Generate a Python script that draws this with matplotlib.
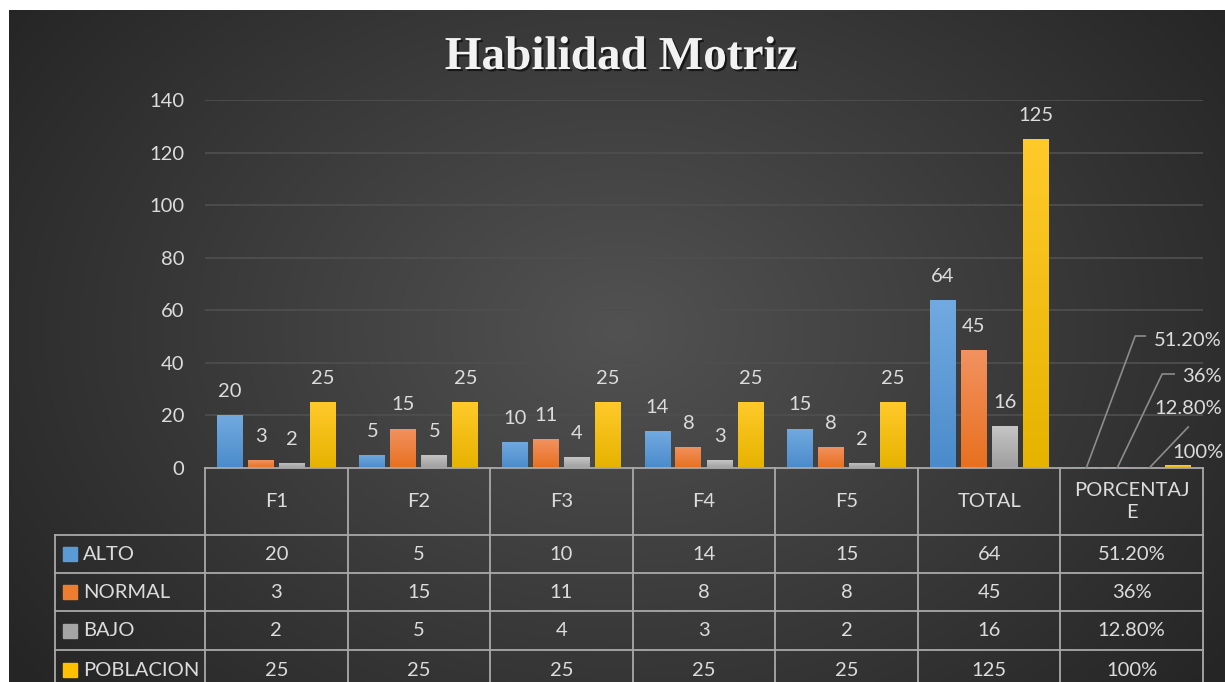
import numpy as np
import matplotlib
matplotlib.use("Agg")
import matplotlib.pyplot as plt
import matplotlib.patheffects as pe
from matplotlib.colors import LinearSegmentedColormap
from matplotlib.lines import Line2D
from matplotlib.transforms import IdentityTransform

plt.rcParams['font.family'] = ['Lato', 'DejaVu Sans']

# data
categories = ["F1", "F2", "F3", "F4", "F5", "TOTAL", "PORCENTAJ\nE"]
series = ["ALTO", "NORMAL", "BAJO", "POBLACION"]
alto = [20, 5, 10, 14, 15, 64, 0.512]
normal = [3, 15, 11, 8, 8, 45, 0.36]
bajo = [2, 5, 4, 3, 2, 16, 0.128]
poblacion = [25, 25, 25, 25, 25, 125, 1.0]
pct_labels = ["51.20%", "36%", "12.80%", "100%"]
values = [alto, normal, bajo, poblacion]

colors_top = ['#72aae0', '#f29260', '#c6c6c6', '#ffca2a']
colors_bot = ['#4b8bcb', '#e8701f', '#9e9e9e', '#e6b300']
key_colors = ['#5b9bd5', '#ed7d31', '#a5a5a5', '#ffc000']
txt = '#dcdcdc'
fs = 14.5

W, H = 1225, 682
fig = plt.figure(figsize=(W / 100, H / 100), dpi=100, facecolor='white')

# background gradient
bg = fig.add_axes([9 / W, 0, 1 - 9 / W, 672 / H])
bg.set_axis_off()
yy, xx = np.mgrid[0:672, 0:1216]
r = np.sqrt(((xx - 610) / 760.0) ** 2 + ((yy - 320) / 560.0) ** 2)
r = np.clip(r, 0, 1)
g = (0x52 + (0x25 - 0x52) * r) / 255.0
bg.imshow(np.dstack([g, g, g]), aspect='auto', interpolation='bilinear')

# main axes
ax = fig.add_axes([205 / W, (H - 468) / H, 998 / W, 368 / H])
ax.set_facecolor('none')
for s in ax.spines.values():
    s.set_visible(False)

n = len(categories)
x = np.arange(n)
offsets = [-0.326, -0.109, 0.109, 0.326]
bw = 0.182
grad = np.linspace(0, 1, 100).reshape(-1, 1)
for i in range(4):
    bars = ax.bar(x + offsets[i], values[i], bw, color=key_colors[i], zorder=3)
    cmap = LinearSegmentedColormap.from_list('c%d' % i, [colors_top[i], colors_bot[i]])
    for b in bars:
        x0, w, h = b.get_x(), b.get_width(), b.get_height()
        im = ax.imshow(grad, cmap=cmap, extent=[x0, x0 + w, 0, h], aspect='auto', zorder=4)
        im.set_clip_path(b)
    for j in range(n - 1):
        ax.annotate(str(values[i][j]), (x[j] + offsets[i], values[i][j]), xytext=(0, 17),
                    textcoords='offset points', ha='center', va='center', color=txt,
                    fontsize=fs, zorder=5)

ax.set_xlim(-0.5, n - 0.5)
ax.set_ylim(0, 140)
ax.set_yticks(range(0, 141, 20))
ax.set_xticks([])
ax.tick_params(axis='y', length=0, pad=15, labelsize=fs, labelcolor=txt)
ax.yaxis.grid(True, color='#4e4e4e', lw=1.3, zorder=0)
ax.set_axisbelow(True)

# percentage labels with leader lines (pixel offsets from bar top)
fig.canvas.draw()
lab_off = [(69, 128), (66, 91), (7, 59), (-6, 16)]
leaders = [[(1, 0), (50, 132), (60, 132)],
           [(1, 0), (46, 94), (58, 94)],
           [(2, 0), (41, 41)],
           None]
for i in range(4):
    ax_pt = ax.transData.transform((x[-1] + offsets[i], 0))
    fig.text(ax_pt[0] + lab_off[i][0], ax_pt[1] + lab_off[i][1], pct_labels[i],
             transform=IdentityTransform(), ha='left', va='center', color=txt, fontsize=fs)
    if leaders[i]:
        xs = [ax_pt[0] + p[0] for p in leaders[i]]
        ys = [ax_pt[1] + p[1] for p in leaders[i]]
        fig.add_artist(Line2D(xs, ys, transform=IdentityTransform(), color='#8c8c8c', lw=1.2))

# data table below the axis
cw = 998 / n  # px per category


def fx(px):
    return (px - 205) / cw - 0.5


def fy(py):
    return (468 - py) / 368.0


trans = ax.get_xaxis_transform()
lc = '#a9a9a9'
rows_y = [468, 535, 573, 611, 650, 690]
ax.plot([-0.5, n - 0.5], [fy(468)] * 2, transform=trans, color=lc, lw=1.3, clip_on=False, zorder=6)
for py in rows_y[1:]:
    ax.plot([fx(55), n - 0.5], [fy(py)] * 2, transform=trans, color=lc, lw=1.3, clip_on=False)
for k in range(n + 1):
    ax.plot([k - 0.5] * 2, [fy(468), fy(690)], transform=trans, color=lc, lw=1.3, clip_on=False)
ax.plot([fx(55)] * 2, [fy(535), fy(690)], transform=trans, color=lc, lw=1.3, clip_on=False)

for j, c in enumerate(categories):
    ax.text(x[j], fy(501.5), c, transform=trans, ha='center', va='center', color=txt,
            fontsize=fs, linespacing=1.35)

for i in range(4):
    yc = fy((rows_y[i + 1] + rows_y[i + 2]) / 2)
    ax.plot([fx(70)], [yc], marker='s', ms=10, color=key_colors[i], transform=trans,
            clip_on=False, linestyle='none')
    ax.text(fx(83), yc, series[i], transform=trans, ha='left', va='center', color=txt, fontsize=fs)
    for j in range(n):
        s = pct_labels[i] if j == n - 1 else str(values[i][j])
        ax.text(x[j], yc, s, transform=trans, ha='center', va='center', color=txt, fontsize=fs)

# title
fig.text(621 / W, (H - 58) / H, "Habilidad Motriz", ha='center', va='center',
         family='Liberation Serif', weight='bold', fontsize=34, color='#f2f2f2',
         path_effects=[pe.withSimplePatchShadow(offset=(1.5, -1.5), shadow_rgbFace='black', alpha=0.6)])

fig.savefig('out.png', dpi=100, facecolor=fig.get_facecolor())
